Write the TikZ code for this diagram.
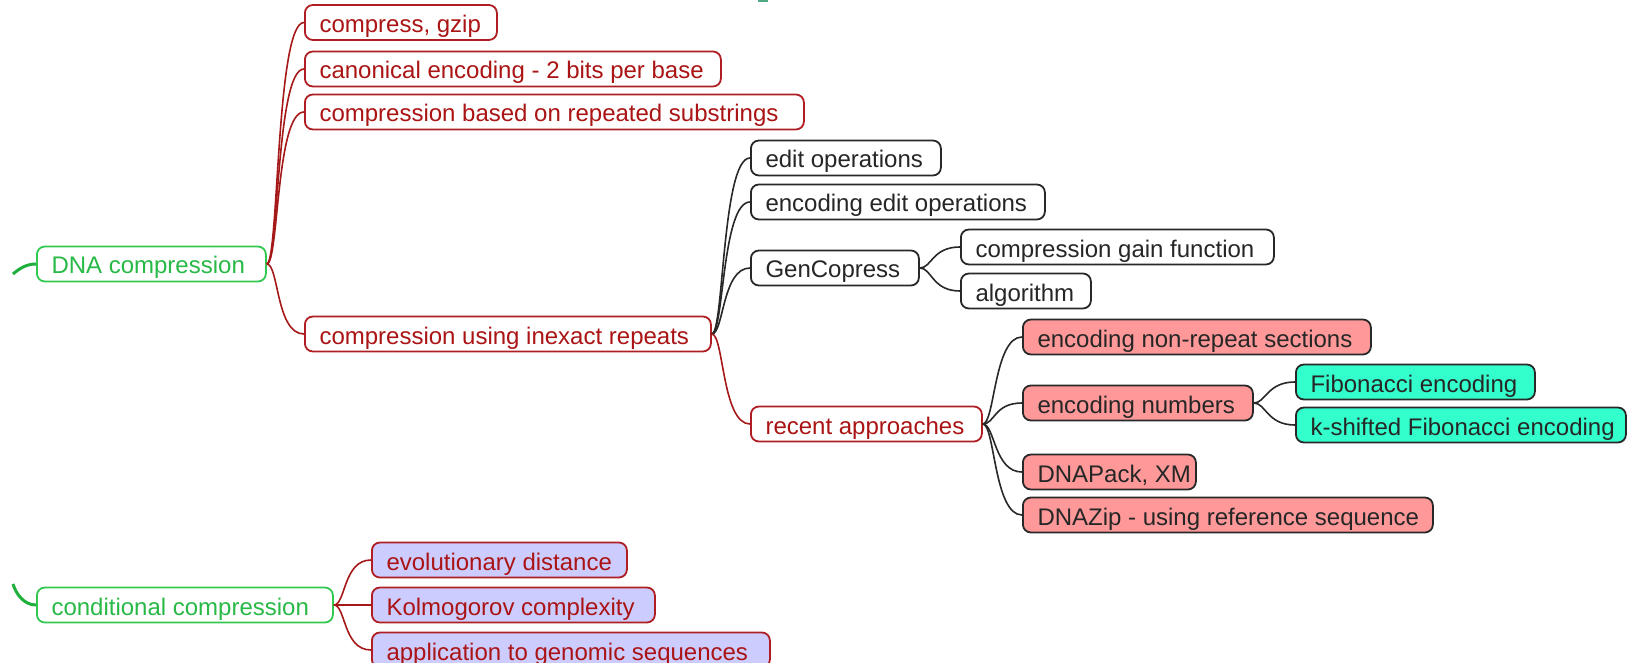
\documentclass[tikz,border=0pt]{standalone}
\usepackage{fontspec}
\setmainfont{Liberation Sans}
\definecolor{redline}{RGB}{165,25,25}
\definecolor{redtext}{RGB}{170,20,20}
\definecolor{redborder}{RGB}{175,30,35}
\definecolor{grnborder}{RGB}{50,200,80}
\definecolor{grntext}{RGB}{40,185,70}
\definecolor{grnline}{RGB}{30,175,60}
\definecolor{darkline}{RGB}{40,40,40}
\definecolor{pinkfill}{RGB}{255,153,153}
\definecolor{tealfill}{RGB}{51,255,204}
\definecolor{lavfill}{RGB}{204,204,255}
\definecolor{tealmark}{RGB}{80,170,130}
% label set flush left in a box of fixed width (in pt)
\newcommand\lbl[2]{\makebox[#1pt][l]{#2}}
\begin{document}
\begin{tikzpicture}[x=0.5pt,y=-0.5pt,
  box/.style={rectangle, rounded corners=4pt, line width=0.9pt, anchor=west,
    minimum height=17.5pt, inner xsep=7.3pt, inner ysep=0pt,
    text height=12pt, text depth=2pt, font=\fontsize{12}{14}\selectfont},
  topic/.style={box, draw=grnborder, fill=white, text=grntext},
  redbox/.style={box, draw=redborder, fill=white, text=redtext},
  plainbox/.style={box, draw=darkline, fill=white, text=black!85},
  pinkbox/.style={box, draw=darkline, fill=pinkfill, text=black!85},
  tealbox/.style={box, draw=darkline, fill=tealfill, text=black!85},
  lavbox/.style={box, draw=redborder, fill=lavfill, text=redtext},
  link/.style={line width=0.8pt,
    to path={.. controls +(12,0) and +(-28,0) .. (\tikztotarget)}},
  redlink/.style={link, draw=redline},
  darklink/.style={link, draw=darkline},
  rootlink/.style={draw=grnline, line width=1.5pt}
]
\useasboundingbox (0,0) rectangle (1627,663);
\clip (0,0) rectangle (1627,663);

% fragment of a node cut off at the top edge
\fill[tealmark] (758,0) rectangle (768,2);

% first topic
\node[topic] (dna) at (36,264) {\lbl{99.9}{DNA compression}};
\node[redbox] (gzip) at (304,22.5) {\lbl{81.4}{compress, gzip}};
\node[redbox] (canon) at (304,69) {\lbl{193.4}{canonical encoding - 2 bits per base}};
\node[redbox] (repsub) at (304,112) {\lbl{234.9}{compression based on repeated substrings}};
\node[redbox] (inexact) at (304,334) {\lbl{188.4}{compression using inexact repeats}};

\node[plainbox] (editops) at (750,158) {\lbl{80.4}{edit operations}};
\node[plainbox] (encedit) at (750,202) {\lbl{132.4}{encoding edit operations}};
\node[plainbox] (gencop) at (750,268) {\lbl{69.4}{GenCopress}};
\node[plainbox] (gain) at (960,247) {\lbl{141.9}{compression gain function}};
\node[plainbox] (algo) at (960,291) {\lbl{50.4}{algorithm}};
\node[redbox] (recent) at (750,424) {\lbl{100.9}{recent approaches}};

\node[pinkbox] (nonrep) at (1022,337) {\lbl{159.4}{encoding non-repeat sections}};
\node[pinkbox] (numbers) at (1022,403) {\lbl{100.4}{encoding numbers}};
\node[tealbox] (fib) at (1295,382) {\lbl{104.9}{Fibonacci encoding}};
\node[tealbox] (kfib) at (1295,425) {\lbl{150.4}{k-shifted Fibonacci encoding}};
\node[pinkbox] (dnapack) at (1022,472) {\lbl{71.9}{DNAPack, XM}};
\node[pinkbox] (dnazip) at (1022,515) {\lbl{190.4}{DNAZip - using reference sequence}};

% second topic
\node[topic] (cond) at (36,605) {\lbl{133.4}{conditional compression}};
\node[lavbox] (evol) at (371,560) {\lbl{112.9}{evolutionary distance}};
\node[lavbox] (kolm) at (371,605) {\lbl{126.9}{Kolmogorov complexity}};
\node[lavbox] (app) at (371,650) {\lbl{184.4}{application to genomic sequences}};

% branches
\draw[redlink] (dna.east) to (gzip.west);
\draw[redlink] (dna.east) to (canon.west);
\draw[redlink] (dna.east) to (repsub.west);
\draw[redlink] (dna.east) to (inexact.west);

\draw[darklink] (inexact.east) to (editops.west);
\draw[darklink] (inexact.east) to (encedit.west);
\draw[darklink] (inexact.east) to (gencop.west);
\draw[redlink] (inexact.east) to (recent.west);

\draw[darklink] (gencop.east) to (gain.west);
\draw[darklink] (gencop.east) to (algo.west);

\draw[darklink] (recent.east) to (nonrep.west);
\draw[darklink] (recent.east) to (numbers.west);
\draw[darklink] (recent.east) to (dnapack.west);
\draw[darklink] (recent.east) to (dnazip.west);

\draw[darklink] (numbers.east) to (fib.west);
\draw[darklink] (numbers.east) to (kfib.west);

\draw[redlink] (cond.east) to (evol.west);
\draw[redlink] (cond.east) to (kolm.west);
\draw[redlink] (cond.east) to (app.west);

% branches coming in from the root, off the left edge
\coordinate (g1) at (13,274);
\coordinate (g2) at (13,584);
\draw[rootlink] (g1) .. controls +(7,-6) and +(-9,0) .. (dna.west);
\draw[rootlink] (g2) .. controls +(3,10) and +(-12,0) .. (cond.west);
\end{tikzpicture}
\end{document}
